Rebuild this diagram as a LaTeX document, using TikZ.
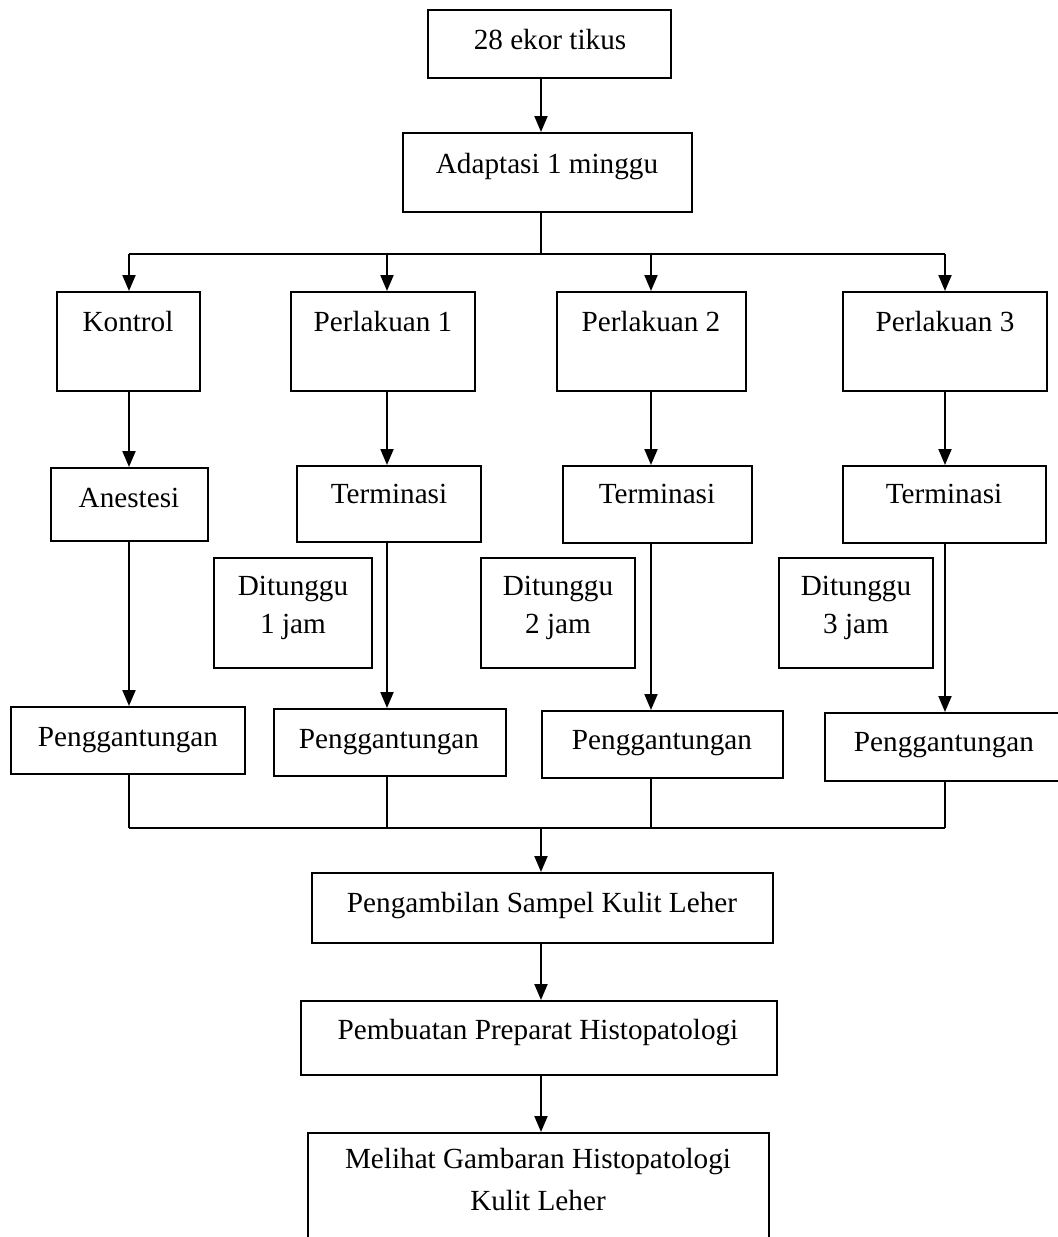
\documentclass[tikz,border=0pt]{standalone}
\usepackage{fontspec}
\setmainfont{Liberation Serif}
\usetikzlibrary{arrows.meta,fit}
\begin{document}
\begin{tikzpicture}[x=0.5pt,y=-0.5pt,
  box/.style={draw=black,line width=1pt,inner sep=0pt,fill=none},
  txt/.style={anchor=base,inner sep=0pt,font=\fontsize{14.6}{17}\selectfont},
  arr/.style={draw=black,line width=1pt,-{Triangle[length=8pt,width=6.5pt]}},
  ln/.style={draw=black,line width=0.75pt}]
\useasboundingbox (0,0) rectangle (1057,1237);
\fill[white] (0,0) rectangle (1057,1237);
% boxes
\node[box,fit={(428,10) (671,78)}] (t0) {};
\node[box,fit={(403,133) (692,212)}] (ad) {};
\node[box,fit={(57,292) (200,391)}] (k) {};
\node[box,fit={(291,292) (475,391)}] (p1) {};
\node[box,fit={(557,292) (746,391)}] (p2) {};
\node[box,fit={(843,292) (1047,391)}] (p3) {};
\node[box,fit={(51,468) (208,541)}] (an) {};
\node[box,fit={(297,466) (481,542)}] (te1) {};
\node[box,fit={(563,466) (752,543)}] (te2) {};
\node[box,fit={(843,466) (1046,543)}] (te3) {};
\node[box,fit={(214,558) (372,668)}] (d1) {};
\node[box,fit={(481,558) (635,668)}] (d2) {};
\node[box,fit={(779,558) (933,668)}] (d3) {};
\node[box,fit={(11,707) (245,774)}] (g1) {};
\node[box,fit={(274,709) (506,776)}] (g2) {};
\node[box,fit={(542,711) (783,778)}] (g3) {};
\node[box,fit={(825,713) (1070,781)}] (g4) {};
\node[box,fit={(312,873) (773,943)}] (pa) {};
\node[box,fit={(301,1001) (777,1075)}] (pb) {};
\node[box,fit={(308,1133) (769,1260)}] (ml) {};
% texts
\node[txt] (t0t) at (550,49) {28 ekor tikus};
\node[txt] (adt) at (547,173) {Adaptasi 1 minggu};
\node[txt] (kt) at (128,331) {Kontrol};
\node[txt] (p1t) at (383,331) {Perlakuan 1};
\node[txt] (p2t) at (651,331) {Perlakuan 2};
\node[txt] (p3t) at (945,331) {Perlakuan 3};
\node[txt] (ant) at (129,507) {Anestesi};
\node[txt] (te1t) at (389,503) {Terminasi};
\node[txt] (te2t) at (657,503) {Terminasi};
\node[txt] (te3t) at (944,503) {Terminasi};
\node[txt] (d1a) at (293,595) {Ditunggu};
\node[txt] (d1b) at (293,633) {1 jam};
\node[txt] (d2a) at (558,595) {Ditunggu};
\node[txt] (d2b) at (558,633) {2 jam};
\node[txt] (d3a) at (856,595) {Ditunggu};
\node[txt] (d3b) at (856,633) {3 jam};
\node[txt] (g1t) at (128,746) {Penggantungan};
\node[txt] (g2t) at (389,748) {Penggantungan};
\node[txt] (g3t) at (662,749) {Penggantungan};
\node[txt] (g4t) at (944,751) {Penggantungan};
\node[txt] (pat) at (542,912) {Pengambilan Sampel Kulit Leher};
\node[txt] (pbt) at (538,1039) {Pembuatan Preparat Histopatologi};
\node[txt] (mla) at (538,1168) {Melihat Gambaran Histopatologi};
\node[txt] (mlb) at (538,1210) {Kulit Leher};
% connector coordinates
\coordinate (c0) at (541,0);
\coordinate (xa) at (129,0);
\coordinate (xb) at (387,0);
\coordinate (xc) at (651,0);
\coordinate (xd) at (945,0);
\coordinate (br) at (541,254);
\coordinate (mg) at (541,828);
% top
\draw[arr] (c0 |- t0.south) -- (c0 |- ad.north);
\draw[ln] (c0 |- ad.south) -- (br);
\draw[ln] (xa |- br) -- (xd |- br);
\draw[arr] (xa |- br) -- (xa |- k.north);
\draw[arr] (xb |- br) -- (xb |- p1.north);
\draw[arr] (xc |- br) -- (xc |- p2.north);
\draw[arr] (xd |- br) -- (xd |- p3.north);
% row 1 to row 2
\draw[arr] (xa |- k.south) -- (xa |- an.north);
\draw[arr] (xb |- p1.south) -- (xb |- te1.north);
\draw[arr] (xc |- p2.south) -- (xc |- te2.north);
\draw[arr] (xd |- p3.south) -- (xd |- te3.north);
% row 2 to penggantungan
\draw[arr] (xa |- an.south) -- (xa |- g1.north);
\draw[arr] (xb |- te1.south) -- (xb |- g2.north);
\draw[arr] (xc |- te2.south) -- (xc |- g3.north);
\draw[arr] (xd |- te3.south) -- (xd |- g4.north);
% merge
\draw[ln] (xa |- g1.south) -- (xa |- mg);
\draw[ln] (xb |- g2.south) -- (xb |- mg);
\draw[ln] (xc |- g3.south) -- (xc |- mg);
\draw[ln] (xd |- g4.south) -- (xd |- mg);
\draw[ln] (xa |- mg) -- (xd |- mg);
\draw[arr] (mg) -- (mg |- pa.north);
\draw[arr] (mg |- pa.south) -- (mg |- pb.north);
\draw[arr] (mg |- pb.south) -- (mg |- ml.north);
\end{tikzpicture}
\end{document}
